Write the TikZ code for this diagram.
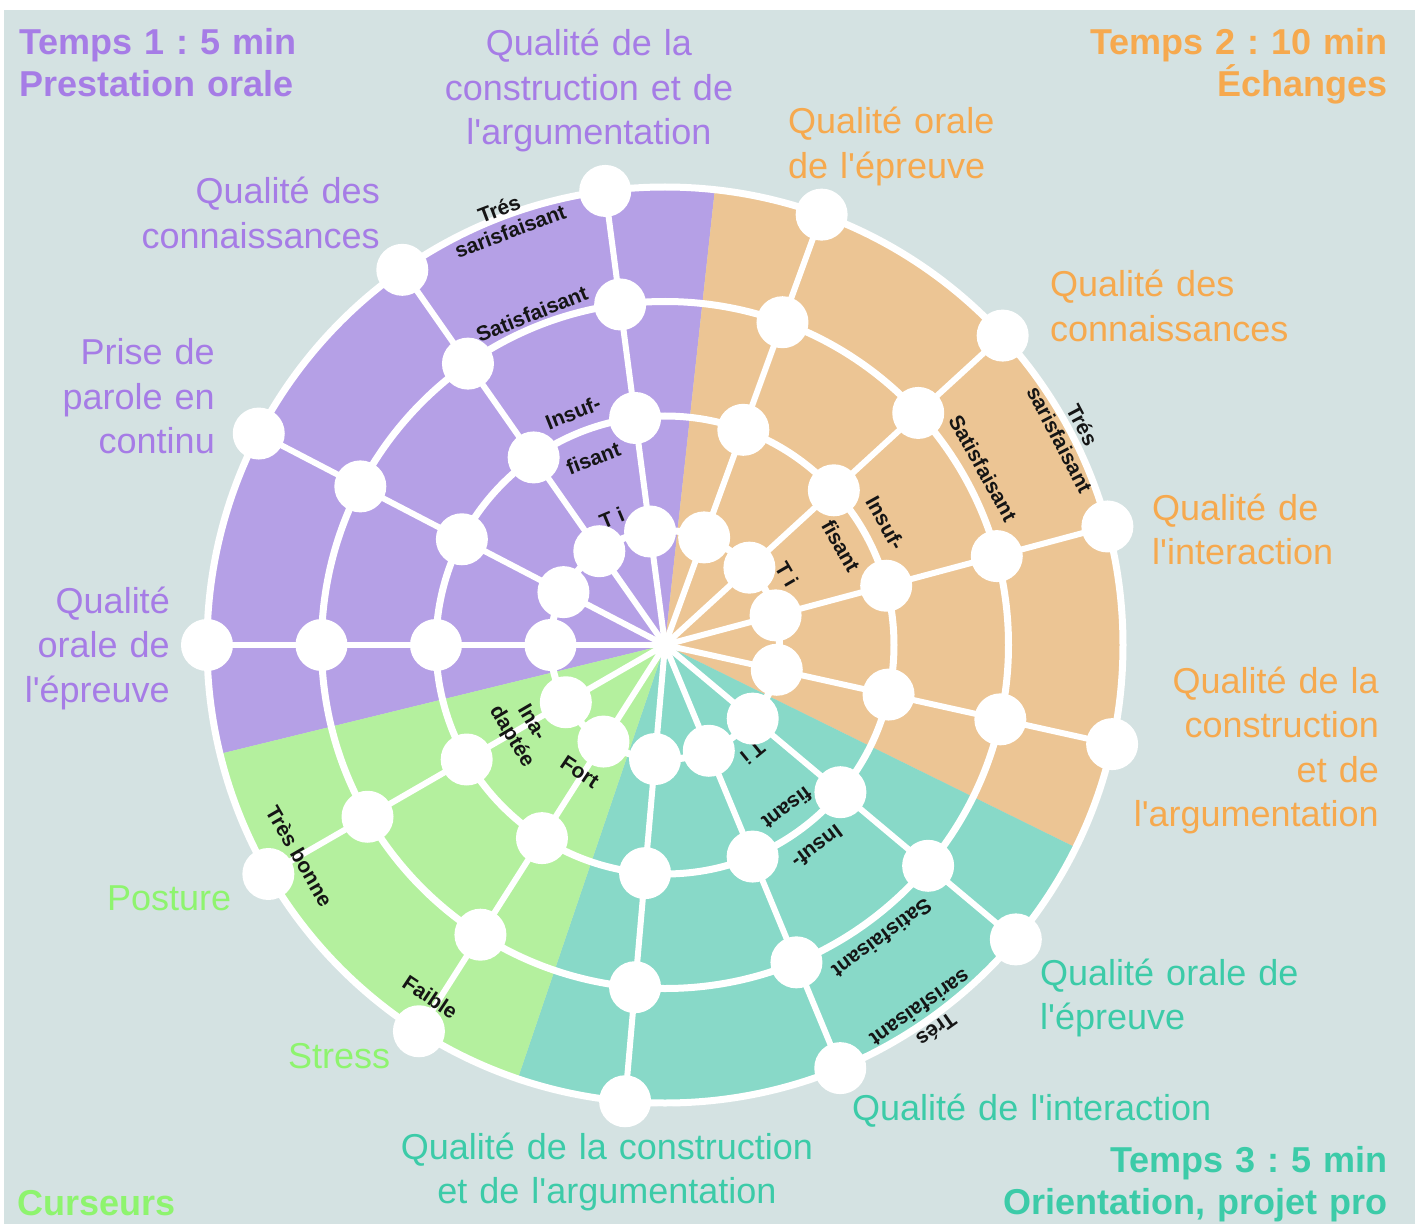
\documentclass[tikz,border=0pt]{standalone}
\usepackage{fontspec}
\setmainfont{Liberation Sans}[Ligatures=TeXOff]
\frenchspacing
\definecolor{bgc}{HTML}{D4E2E2}
\definecolor{purF}{HTML}{B5A0E6}
\definecolor{purT}{HTML}{A67CE6}
\definecolor{oraF}{HTML}{ECC594}
\definecolor{oraT}{HTML}{F6A94E}
\definecolor{teaF}{HTML}{88D9C8}
\definecolor{teaT}{HTML}{3CCBA8}
\definecolor{greF}{HTML}{B4F09E}
\definecolor{greT}{HTML}{8EF46E}
\definecolor{ink}{HTML}{151515}
\pgfdeclarelayer{bglayer}
\pgfdeclarelayer{linelayer}
\pgfsetlayers{bglayer,linelayer,main}
\tikzset{
  dot/.style={circle,fill=white,minimum size=52pt,inner sep=0pt},
  hub/.style={circle,fill=white,minimum size=20pt,inner sep=0pt},
  spoke/.style={white,line width=6pt},
  ringline/.style={white,line width=7pt},
  lab/.style={font=\bfseries\fontsize{21}{24}\selectfont,text=ink,inner sep=0pt},
  cat/.style={font=\fontsize{36}{44.5}\selectfont,inner sep=0pt,text width=#1},
  ttl/.style={font=\bfseries\fontsize{36}{42}\selectfont,inner sep=0pt,text width=#1}
}
\begin{document}
\begin{tikzpicture}[x=1pt,y=1pt]
\useasboundingbox (-665,-579) rectangle (756,645);
% hub and nodes
\node[hub] (c) at (0,0) {};
\foreach \k in {0,...,12}{
  \pgfmathsetmacro{\a}{180-27.5*\k}
  \foreach \i in {1,2,3,4}{
    \node[dot] (n-\k-\i) at ({\a}:{114.5*\i}) {};
  }
}
% background and sectors
\begin{pgfonlayer}{bglayer}
  \fill[white] (-665,-579) rectangle (756,645);
  \fill[bgc] (-661,-579) rectangle (750,635);
  \fill[purF] (c.center) -- (83.75:461) arc[start angle=83.75, end angle=193.75, radius=461pt] -- cycle;
  \fill[oraF] (c.center) -- (-26.25:461) arc[start angle=-26.25, end angle=83.75, radius=461pt] -- cycle;
  \fill[teaF] (c.center) -- (-108.75:461) arc[start angle=-108.75, end angle=-26.25, radius=461pt] -- cycle;
  \fill[greF] (c.center) -- (-166.25:461) arc[start angle=-166.25, end angle=-108.75, radius=461pt] -- cycle;
\end{pgfonlayer}
% connectors and inner labels
\begin{pgfonlayer}{linelayer}
  \foreach \k in {0,...,12}{
    \draw[spoke] (c.center) -- (n-\k-4.center);
  }
  \foreach \i in {1,2,3,4}{
    \draw[ringline] (c.center) circle[radius=\i*114.5pt];
  }
  % purple
  \node[lab,rotate=20.8] (pa1) at (110.8:467) {Trés};
  \node[lab,rotate=20.5] (pa2) at (110.5:442) {sarisfaisant};
  \node[lab,rotate=21.9] (pa3) at (111.9:357) {Satisfaisant};
  \node[lab,rotate=21.6] (pa4) at (111.6:250) {Insuf-};
  \node[lab,rotate=21.0] (pa5) at (111.0:200) {fisant};
  \node[lab,rotate=22.7] (pa6) at (112.7:138) {T i};
  % orange
  \node[lab,rotate=-62.2] (oa1) at (27.8:472) {Trés};
  \node[lab,rotate=-62.5] (oa2) at (27.5:445) {sarisfaisant};
  \node[lab,rotate=-60.9] (oa3) at (29.1:364) {Satisfaisant};
  \node[lab,rotate=-61.0] (oa4) at (29.0:252) {Insuf-};
  \node[lab,rotate=-60.6] (oa5) at (29.4:202) {fisant};
  \node[lab,rotate=-59.8] (oa6) at (30.2:141) {T i};
  % teal
  \node[lab,rotate=-144.8] (ta1) at (-54.8:471) {Trés};
  \node[lab,rotate=-144.9] (ta2) at (-54.9:444) {sarisfaisant};
  \node[lab,rotate=-143.5] (ta3) at (-53.5:365) {Satisfaisant};
  \node[lab,rotate=-143.0] (ta4) at (-53.0:253) {Insuf-};
  \node[lab,rotate=-143.2] (ta5) at (-53.2:204) {fisant};
  \node[lab,rotate=-140.8] (ta6) at (-50.8:139) {T i};
  % green
  \node[lab,rotate=-60] (ga1) at (210:422) {Très bonne};
  \node[lab,rotate=-33.7] (ga2) at (236.3:423) {Faible};
  \node[lab,rotate=-59.7] (ga3) at (210.3:153) {Ina-};
  \node[lab,rotate=-59.1] (ga4) at (210.9:179) {daptée};
  \node[lab,rotate=-33.8] (ga5) at (236.2:153) {Fort};
\end{pgfonlayer}
% titles
\node[ttl=400pt,align=left,text=purT,anchor=base west] (t1) at (-646,590) {Temps 1 : 5 min\\Prestation orale};
\node[ttl=400pt,align=right,text=oraT,anchor=base east] (t2) at (723,590) {Temps 2 : 10 min\\Échanges};
\node[ttl=500pt,align=right,text=teaT,anchor=base east] (t3) at (723,-527) {Temps 3 : 5 min\\Orientation, projet pro};
\node[ttl=300pt,align=left,text=greT,anchor=base west] (t4) at (-648,-570) {Curseurs};
% purple categories
\node[cat=400pt,align=center,text=purT,anchor=base] (pc4) at (-76,589) {Qualité de la\\construction et de\\l'argumentation};
\node[cat=400pt,align=right,text=purT,anchor=base east] (pc3) at (-285,441) {Qualité des\\connaissances};
\node[cat=300pt,align=right,text=purT,anchor=base east] (pc2) at (-450,280) {Prise de\\parole en\\continu};
\node[cat=300pt,align=right,text=purT,anchor=base east] (pc1) at (-495,32) {Qualité\\orale de\\l'épreuve};
% orange categories
\node[cat=400pt,align=left,text=oraT,anchor=base west] (oc1) at (123,511) {Qualité orale\\de l'épreuve};
\node[cat=400pt,align=left,text=oraT,anchor=base west] (oc2) at (385,348) {Qualité des\\connaissances};
\node[cat=300pt,align=left,text=oraT,anchor=base west] (oc3) at (487,125) {Qualité de\\l'interaction};
\node[cat=400pt,align=right,text=oraT,anchor=base east] (oc4) at (714,-48) {Qualité de la\\construction\\et de\\l'argumentation};
% teal categories
\node[cat=400pt,align=left,text=teaT,anchor=base west] (tc1) at (375,-340) {Qualité orale de\\l'épreuve};
\node[cat=500pt,align=left,text=teaT,anchor=base west] (tc2) at (187,-475) {Qualité de l'interaction};
\node[cat=600pt,align=center,text=teaT,anchor=base] (tc3) at (-58,-514) {Qualité de la construction\\et de l'argumentation};
% green categories
\node[cat=200pt,align=left,text=greT,anchor=base west] (gc1) at (-558,-265) {Posture};
\node[cat=200pt,align=left,text=greT,anchor=base west] (gc2) at (-377,-423) {Stress};
\end{tikzpicture}
\end{document}
